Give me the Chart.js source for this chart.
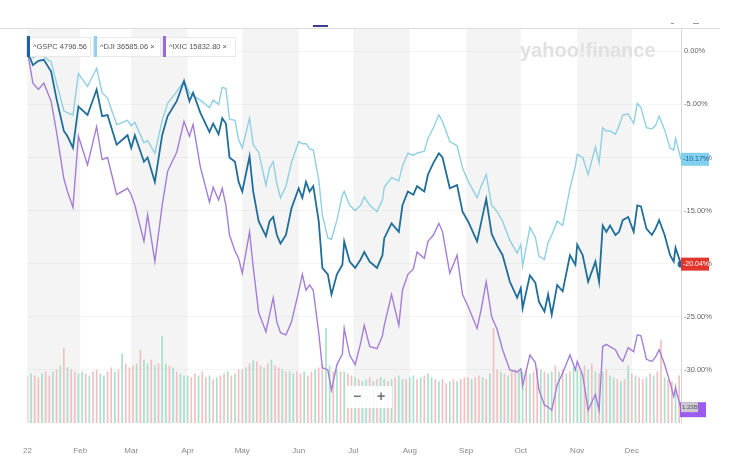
<!DOCTYPE html>
<html>
<head>
<meta charset="utf-8">
<script src="https://cdn.jsdelivr.net/npm/chart.js@4"></script>
<style>
  html, body { margin: 0; padding: 0; background: #fff; }
  #wrap { width: 750px; height: 460px; }
</style>
</head>
<body>
<div id="wrap"><canvas id="chart" width="750" height="460"></canvas></div>
<script>
// day of year (Jan 1 = 0) for the sampled closes
var lineDays = [2, 5, 8, 11, 15, 18, 22, 24, 27, 30,
    35, 40, 43, 46, 51, 57, 59, 61, 66, 68,
    72, 76, 79, 84, 88, 91, 93, 97, 102, 104,
    107, 109, 111, 113, 116, 118, 120, 124, 126, 129,
    133, 135, 137, 139, 141, 144, 147, 151, 153, 155,
    157, 159, 162, 164, 167, 169, 172, 175, 176, 179,
    182, 185, 187, 190, 194, 197, 198, 202, 206, 208,
    211, 214, 216, 220, 222, 225, 228, 230, 234, 238,
    241, 244, 249, 251, 254, 257, 260, 263, 267, 271,
    273, 274, 278, 281, 283, 286, 288, 290, 293, 296,
    300, 303, 304, 307, 310, 314, 316, 318, 320, 322,
    325, 327, 329, 332, 335, 337, 339, 342, 345, 347,
    349, 352, 355, 357, 358, 361];

// % change since Jan 3
var gspc = [0, -1.3, -0.9, -0.8, -1.9, -4.5, -7.5, -8.0, -9.1, -5.2,
    -6.0, -3.6, -6.1, -6.0, -8.8, -7.9, -9.1, -7.9, -10.4, -10.0,
    -12.3, -7.9, -6.1, -4.7, -2.8, -4.7, -3.9, -5.8, -7.6, -6.8,
    -7.8, -6.3, -6.8, -10.0, -10.4, -12.3, -13.2, -9.9, -13.2, -16.0,
    -17.4, -16.0, -15.6, -17.3, -18.1, -17.3, -14.8, -12.9, -13.8, -12.3,
    -13.2, -12.7, -16.0, -20.4, -21.0, -22.9, -21.0, -20.1, -17.9, -19.8,
    -20.4, -19.6, -18.9, -19.8, -20.4, -19.2, -17.6, -16.2, -17.0, -14.5,
    -13.2, -13.5, -12.7, -13.2, -11.6, -10.5, -9.6, -10.0, -12.9, -12.6,
    -15.1, -16.0, -17.9, -16.3, -13.9, -17.2, -18.3, -19.2, -21.7, -23.2,
    -22.3, -24.2, -21.1, -21.8, -23.6, -24.5, -22.9, -24.8, -22.0, -22.6,
    -19.2, -20.1, -18.2, -19.2, -21.7, -19.8, -21.7, -16.4, -17.0, -16.4,
    -17.3, -17.0, -15.9, -15.6, -17.0, -14.5, -14.6, -16.7, -17.3, -16.7,
    -15.9, -17.3, -19.2, -19.8, -18.5, -20.04];

var dji = [0, -0.6, -0.4, -0.5, -1.0, -3.0, -5.6, -5.8, -6.0, -2.1,
    -3.3, -1.6, -3.9, -4.4, -6.9, -6.5, -7.0, -6.7, -8.6, -8.4,
    -9.6, -6.5, -4.9, -3.8, -2.8, -3.9, -4.2, -4.6, -5.3, -4.6,
    -5.0, -3.4, -3.5, -6.4, -6.5, -8.3, -9.1, -6.3, -8.8, -9.5,
    -12.6, -11.0, -10.4, -12.5, -13.8, -12.7, -10.5, -8.5, -8.7, -8.7,
    -9.2, -9.3, -12.1, -15.4, -17.6, -17.7, -15.9, -13.5, -13.2, -14.5,
    -15.0, -14.5, -13.7, -14.5, -15.1, -14.0, -12.8, -11.9, -12.2, -10.8,
    -9.6, -9.8, -9.6, -9.4, -8.2, -7.2, -6.0, -6.6, -8.5, -8.9,
    -11.0, -12.2, -13.8, -12.8, -11.6, -14.5, -15.1, -16.0, -17.8, -19.0,
    -18.2, -20.2, -16.6, -17.5, -19.3, -19.6, -18.0, -17.3, -16.0, -16.4,
    -12.9, -10.8, -9.7, -10.0, -11.6, -9.0, -10.5, -7.2, -7.5, -7.5,
    -7.8, -7.0, -6.0, -5.9, -6.8, -4.9, -5.3, -7.2, -7.3, -7.0,
    -6.1, -7.4, -9.1, -9.3, -8.2, -10.17];

var ixic = [0, -3.0, -3.6, -3.0, -4.7, -7.6, -12.0, -13.2, -14.7, -8.0,
    -10.7, -7.1, -10.2, -10.0, -13.5, -12.9, -13.5, -14.5, -17.9, -15.4,
    -19.8, -14.5, -11.3, -9.5, -6.6, -8.0, -6.9, -10.9, -14.2, -12.8,
    -14.0, -12.9, -14.5, -17.3, -18.8, -19.5, -20.9, -17.0, -20.3, -24.6,
    -26.4, -24.8, -23.2, -25.5, -26.5, -26.7, -25.5, -22.6, -21.0, -22.5,
    -22.0, -22.5, -26.5, -29.8, -30.0, -31.9, -29.5, -28.5, -26.1, -28.6,
    -29.5, -27.5, -25.8, -27.8, -28.0, -26.8, -25.8, -22.9, -25.8, -22.5,
    -21.0, -20.5, -18.9, -19.5, -17.9, -17.3, -16.2, -17.0, -20.9, -19.2,
    -22.9, -24.0, -26.1, -24.5, -21.7, -25.0, -26.2, -28.1, -30.0, -30.2,
    -29.9, -31.5, -28.6, -29.3, -31.9, -33.3, -33.5, -33.8, -31.4, -30.3,
    -28.6, -30.0, -29.2, -30.5, -33.8, -32.3, -33.8, -27.8, -27.6, -27.8,
    -28.1, -28.8, -29.2, -27.9, -28.3, -26.7, -26.8, -29.0, -29.2, -28.8,
    -28.1, -29.5, -31.2, -32.5, -31.7, -33.7];

// volume bars (billions), one every other day
var volDays = [2, 4, 6, 8, 10, 12, 14, 16, 18, 20, 22, 24, 26, 28, 30,
    32, 34, 36, 38, 40, 42, 44, 46, 48, 50, 52, 54, 56, 58,
    60, 62, 64, 66, 68, 70, 72, 74, 76, 78, 80, 82, 84, 86, 88,
    90, 92, 94, 96, 98, 100, 102, 104, 106, 108, 110, 112, 114, 116, 118,
    120, 122, 124, 126, 128, 130, 132, 134, 136, 138, 140, 142, 144, 146, 148, 150,
    152, 154, 156, 158, 160, 162, 164, 166, 168, 170, 172, 174, 176, 178, 180,
    182, 184, 186, 188, 190, 192, 194, 196, 198, 200, 202, 204, 206, 208, 210,
    212, 214, 216, 218, 220, 222, 224, 226, 228, 230, 232, 234, 236, 238, 240, 242,
    244, 246, 248, 250, 252, 254, 256, 258, 260, 262, 264, 266, 268, 270, 272,
    274, 276, 278, 280, 282, 284, 286, 288, 290, 292, 294, 296, 298, 300, 302,
    304, 306, 308, 310, 312, 314, 316, 318, 320, 322, 324, 326, 328, 330, 332,
    334, 336, 338, 340, 342, 344, 346, 348, 350, 352, 354, 356, 358, 360];

var volume = [1.2, 1.25, 1.2, 1.15, 1.25, 1.3, 1.2, 1.3, 1.35, 1.45, 1.9, 1.4, 1.35, 1.3, 1.25,
    1.3, 1.25, 1.2, 1.3, 1.35, 1.25, 1.2, 1.3, 1.4, 1.3, 1.35, 1.75, 1.5, 1.4,
    1.45, 1.5, 1.85, 1.6, 1.5, 1.6, 1.45, 1.5, 2.2, 1.5, 1.45, 1.4, 1.3, 1.25, 1.2,
    1.2, 1.15, 1.25, 1.2, 1.3, 1.15, 1.2, 1.1, 1.15, 1.2, 1.25, 1.3, 1.2, 1.25, 1.35,
    1.35, 1.4, 1.5, 1.6, 1.55, 1.45, 1.4, 1.5, 1.6, 1.45, 1.4, 1.35, 1.3, 1.3, 1.25, 1.3,
    1.25, 1.3, 1.2, 1.3, 1.35, 1.4, 1.5, 2.4, 1.45, 1.3, 1.35, 1.3, 1.3, 1.25, 1.2,
    1.15, 1.1, 1.05, 1.1, 1.15, 1.05, 1.1, 1.15, 1.1, 1.05, 1.1, 1.15, 1.2, 1.1, 1.1,
    1.15, 1.2, 1.1, 1.15, 1.2, 1.25, 1.15, 1.1, 1.05, 1.1, 1.0, 1.05, 1.1, 1.05, 1.1, 1.15,
    1.15, 1.1, 1.15, 1.2, 1.15, 1.1, 1.25, 2.4, 1.35, 1.3, 1.25, 1.2, 1.3, 1.35, 1.3,
    1.3, 1.35, 1.25, 1.3, 1.4, 1.35, 1.3, 1.25, 1.3, 1.45, 1.3, 1.35, 1.25, 1.3, 1.4,
    1.35, 1.3, 1.45, 1.35, 1.5, 1.3, 1.25, 1.3, 1.35, 1.2, 1.15, 1.1, 1.05, 1.1, 1.45,
    1.25, 1.2, 1.15, 1.1, 1.15, 1.25, 1.2, 1.3, 2.1, 1.15, 1.1, 1.05, 1.0, 1.2];

// 1 = up day (green), 0 = down day (red)
var volUp = ('010010010101001' + '10100110010100' + '010110101101011' +
    '100100101001010' + '0101001010010110' + '010010011010100' +
    '101101011010110' + '1101011010010100' + '010010100101001' +
    '101001011010101' + '110101010110101' + '01001010010010').split('');

var monthDays = [2, 31, 59, 90, 120, 151, 181, 212, 243, 273, 304, 334];
var monthLabels = ['22', 'Feb', 'Mar', 'Apr', 'May', 'Jun', 'Jul', 'Aug', 'Sep', 'Oct', 'Nov', 'Dec'];
var yTicks = [0, -5, -10, -15, -20, -25, -30];

var colGspc = '#1f6d99';
var colDji = '#8fd0e2';
var colIxic = '#a47ed6';

function pts(vals) {
    return lineDays.map(function (d, i) { return { x: d, y: vals[i] }; });
}

var decor = {
    id: 'decor',
    beforeDraw: function (chart) {
        var ctx = chart.ctx, a = chart.chartArea, x = chart.scales.x;
        ctx.save();
        ctx.fillStyle = '#fff';
        ctx.fillRect(0, 0, chart.width, chart.height);
        // alternating month bands
        ctx.fillStyle = '#f4f4f4';
        for (var i = 0; i < monthDays.length; i += 2) {
            var x0 = i === 0 ? a.left : x.getPixelForValue(monthDays[i]);
            var x1 = Math.min(a.right, x.getPixelForValue(monthDays[i + 1]));
            ctx.fillRect(x0, a.top, x1 - x0, a.bottom - a.top);
        }
        // top toolbar remnants
        ctx.fillStyle = '#dcdcdc';
        ctx.fillRect(0, 28, 720, 1);
        ctx.fillStyle = '#3b3f8f';
        ctx.fillRect(313, 25, 15, 2);
        ctx.fillStyle = '#999';
        ctx.fillRect(671, 23, 3, 1);
        ctx.fillRect(693, 23, 6, 1);
        ctx.restore();
    },
    beforeDatasetsDraw: function (chart) {
        var ctx = chart.ctx;
        ctx.save();
        ctx.font = 'bold 20px "Liberation Sans", Arial, sans-serif';
        ctx.fillStyle = '#e1e1e1';
        ctx.textBaseline = 'middle';
        ctx.fillText('yahoo!finance', 520, 51);
        ctx.restore();
    },
    afterDraw: function (chart) {
        var ctx = chart.ctx, y = chart.scales.y, a = chart.chartArea;
        ctx.save();
        ctx.textBaseline = 'middle';

        // legend chips
        var chips = [
            { x: 26, w: 64, c: '#1f5fa8', t: '^GSPC 4796.56' },
            { x: 93, w: 67, c: '#8fd3ef', t: '^DJI 36585.06 \u00d7' },
            { x: 162, w: 73, c: '#9a6ad6', t: '^IXIC 15832.80 \u00d7' }
        ];
        ctx.font = '7.5px "Liberation Sans", Arial, sans-serif';
        chips.forEach(function (c) {
            ctx.fillStyle = 'rgba(255,255,255,0.85)';
            ctx.fillRect(c.x, 37, c.w, 19);
            ctx.strokeStyle = '#e8e8e8';
            ctx.lineWidth = 1;
            ctx.strokeRect(c.x + 0.5, 37.5, c.w, 19);
            ctx.fillStyle = c.c;
            ctx.fillRect(c.x + 1, 36, 3, 21);
            ctx.fillStyle = '#555';
            ctx.fillText(c.t, c.x + 7, 47);
        });

        // zoom buttons
        ctx.fillStyle = 'rgba(255,255,255,0.9)';
        ctx.fillRect(347, 386, 45, 22);
        ctx.fillStyle = '#777';
        ctx.font = 'bold 14px "Liberation Sans", Arial, sans-serif';
        ctx.textAlign = 'center';
        ctx.fillText('\u2212', 357, 397);
        ctx.fillText('+', 381, 397);
        ctx.textAlign = 'left';

        // end badges
        ctx.font = '7px "Liberation Sans", Arial, sans-serif';
        var yd = y.getPixelForValue(dji[dji.length - 1]);
        ctx.fillStyle = '#82cff0';
        ctx.fillRect(a.right, yd - 6.5, 28, 13);
        ctx.fillStyle = '#1d5f92';
        ctx.fillText('-10.17%', a.right + 2, yd);

        var yg = y.getPixelForValue(gspc[gspc.length - 1]);
        ctx.fillStyle = '#e2362c';
        ctx.fillRect(a.right, yg - 6.5, 28, 13);
        ctx.fillStyle = '#fff';
        ctx.fillText('-20.04%', a.right + 2, yg);

        var yi = y.getPixelForValue(ixic[ixic.length - 1]);
        ctx.fillStyle = '#9d5cf0';
        ctx.fillRect(a.right - 1, yi - 7, 26, 15);
        ctx.fillStyle = 'rgba(205,205,205,0.95)';
        ctx.fillRect(a.right, yi - 7, 17, 10);
        ctx.fillStyle = '#555';
        ctx.font = '6px "Liberation Sans", Arial, sans-serif';
        ctx.fillText('1.23B', a.right + 1, yi - 2);
        ctx.restore();
    }
};

var chart = new Chart(document.getElementById('chart').getContext('2d'), {
    type: 'bar',
    data: {
        datasets: [{
            type: 'line',
            data: pts(gspc),
            borderColor: colGspc,
            backgroundColor: '#1f5fa8',
            borderWidth: 1.8,
            pointRadius: function (c) { return c.dataIndex === gspc.length - 1 ? 2.5 : 0; },
            tension: 0,
            order: 1
        }, {
            type: 'line',
            data: pts(dji),
            borderColor: colDji,
            borderWidth: 1.4,
            pointRadius: 0,
            tension: 0,
            order: 2
        }, {
            type: 'line',
            data: pts(ixic),
            borderColor: colIxic,
            borderWidth: 1.4,
            pointRadius: 0,
            tension: 0,
            order: 3
        }, {
            type: 'bar',
            data: volDays.map(function (d, i) { return { x: d, y: volume[i] }; }),
            yAxisID: 'yVol',
            backgroundColor: volUp.map(function (u) { return u === '1' ? '#a9dfcb' : '#f0c0c0'; }),
            barThickness: 1,
            order: 10
        }]
    },
    options: {
        responsive: false,
        animation: false,
        layout: { padding: { top: 29, left: 27, right: 0, bottom: 0 } },
        plugins: {
            legend: { display: false },
            tooltip: { enabled: false }
        },
        scales: {
            x: {
                type: 'linear',
                min: 2,
                max: 361,
                offset: false,
                grid: { display: false, drawTicks: false },
                border: { display: false },
                afterBuildTicks: function (s) {
                    s.ticks = monthDays.map(function (v) { return { value: v }; });
                },
                afterFit: function (s) { s.height = 37; },
                ticks: {
                    autoSkip: false,
                    maxRotation: 0,
                    padding: 23,
                    color: '#888',
                    font: { size: 8, family: '"Liberation Sans", Arial, sans-serif' },
                    callback: function (v, i) { return monthLabels[i]; }
                }
            },
            y: {
                position: 'right',
                min: -35,
                max: 2.1,
                grid: { color: 'rgba(0,0,0,0.045)', drawTicks: false },
                border: { display: true, color: '#d8d8d8' },
                afterBuildTicks: function (s) {
                    s.ticks = yTicks.map(function (v) { return { value: v }; });
                },
                afterFit: function (s) { s.width = 69; },
                ticks: {
                    padding: 3,
                    color: '#666',
                    font: { size: 7.5, family: '"Liberation Sans", Arial, sans-serif' },
                    callback: function (v) { return v.toFixed(2) + '%'; }
                }
            },
            yVol: {
                display: false,
                min: 0,
                max: 10
            }
        }
    },
    plugins: [decor]
});
</script>
</body>
</html>
